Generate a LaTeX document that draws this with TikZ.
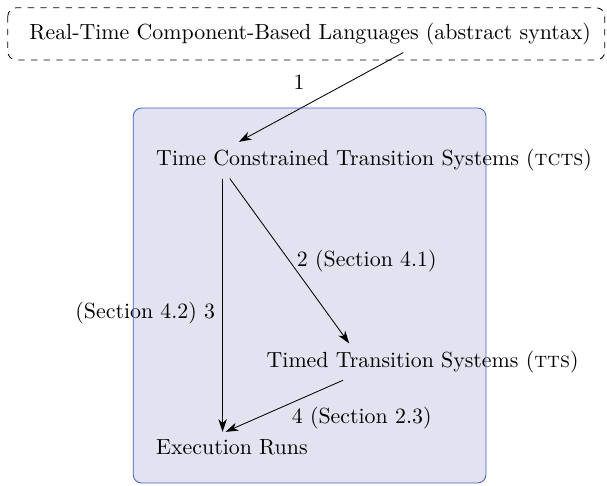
\documentclass[tikz,border=0pt]{standalone}
\usepackage{xcolor}
\usepackage{tikz}
\usetikzlibrary{calc}
\usetikzlibrary{arrows.meta}

\definecolor{boxfill}{RGB}{227,226,241}
\definecolor{boxline}{RGB}{66,98,190}

\begin{document}
\begin{tikzpicture}[font=\fontsize{10.37}{12.4}\selectfont]%%semantics
                \tikzstyle{trans}  = [-{Stealth[length=6pt, width=4pt, inset=1.8pt]}, black]
                \useasboundingbox (0,0) rectangle (10.117,-8.1);
                \fill [boxfill, rounded corners] (2.22,-1.8) rectangle (8.1,-8.05);
                \node (lang) at (5.17,-0.57) {Real-Time Component-Based Languages (abstract syntax)};
                \draw [dashed, rounded corners] (0.13,-0.13) rectangle (10.08,-1.0);
                \node [anchor=west](tcts) at (2.48,-2.67) {Time Constrained Transition Systems (\textsc{tcts})};
                \node [anchor=west](tts) at (4.32,-6.03) {Timed Transition Systems (\textsc{tts})};
                \node [anchor=west](runs) at (2.48,-7.45) {Execution Runs};
                \draw [trans] ($(lang.south)+(1.55,0)$) -- node[midway, above left, xshift=-0.15cm] {1} ($(tcts.north west)+(1.5,0)$);
                \draw [trans] ($(tcts.south west)+(1.35,0)$) -- node[midway, right] {2 (Section 4.1)} ($(tts.north west)+(1.5,0)$);
                \draw [trans] ($(tcts.south west)+(1.23,0)$) -- node[pos=0.53, left] {(Section 4.2) 3} ($(runs.north west)+(1.23,0)$);
                \draw [trans] ($(tts.south west)+(1.4,0)$) -- node[midway, below right, yshift=0.1cm] {4 (Section 2.3)} ($(runs.north west)+(1.28,0)$);
                \draw [boxline, rounded corners] (2.22,-1.8) rectangle (8.1,-8.05);
\end{tikzpicture}
\end{document}
